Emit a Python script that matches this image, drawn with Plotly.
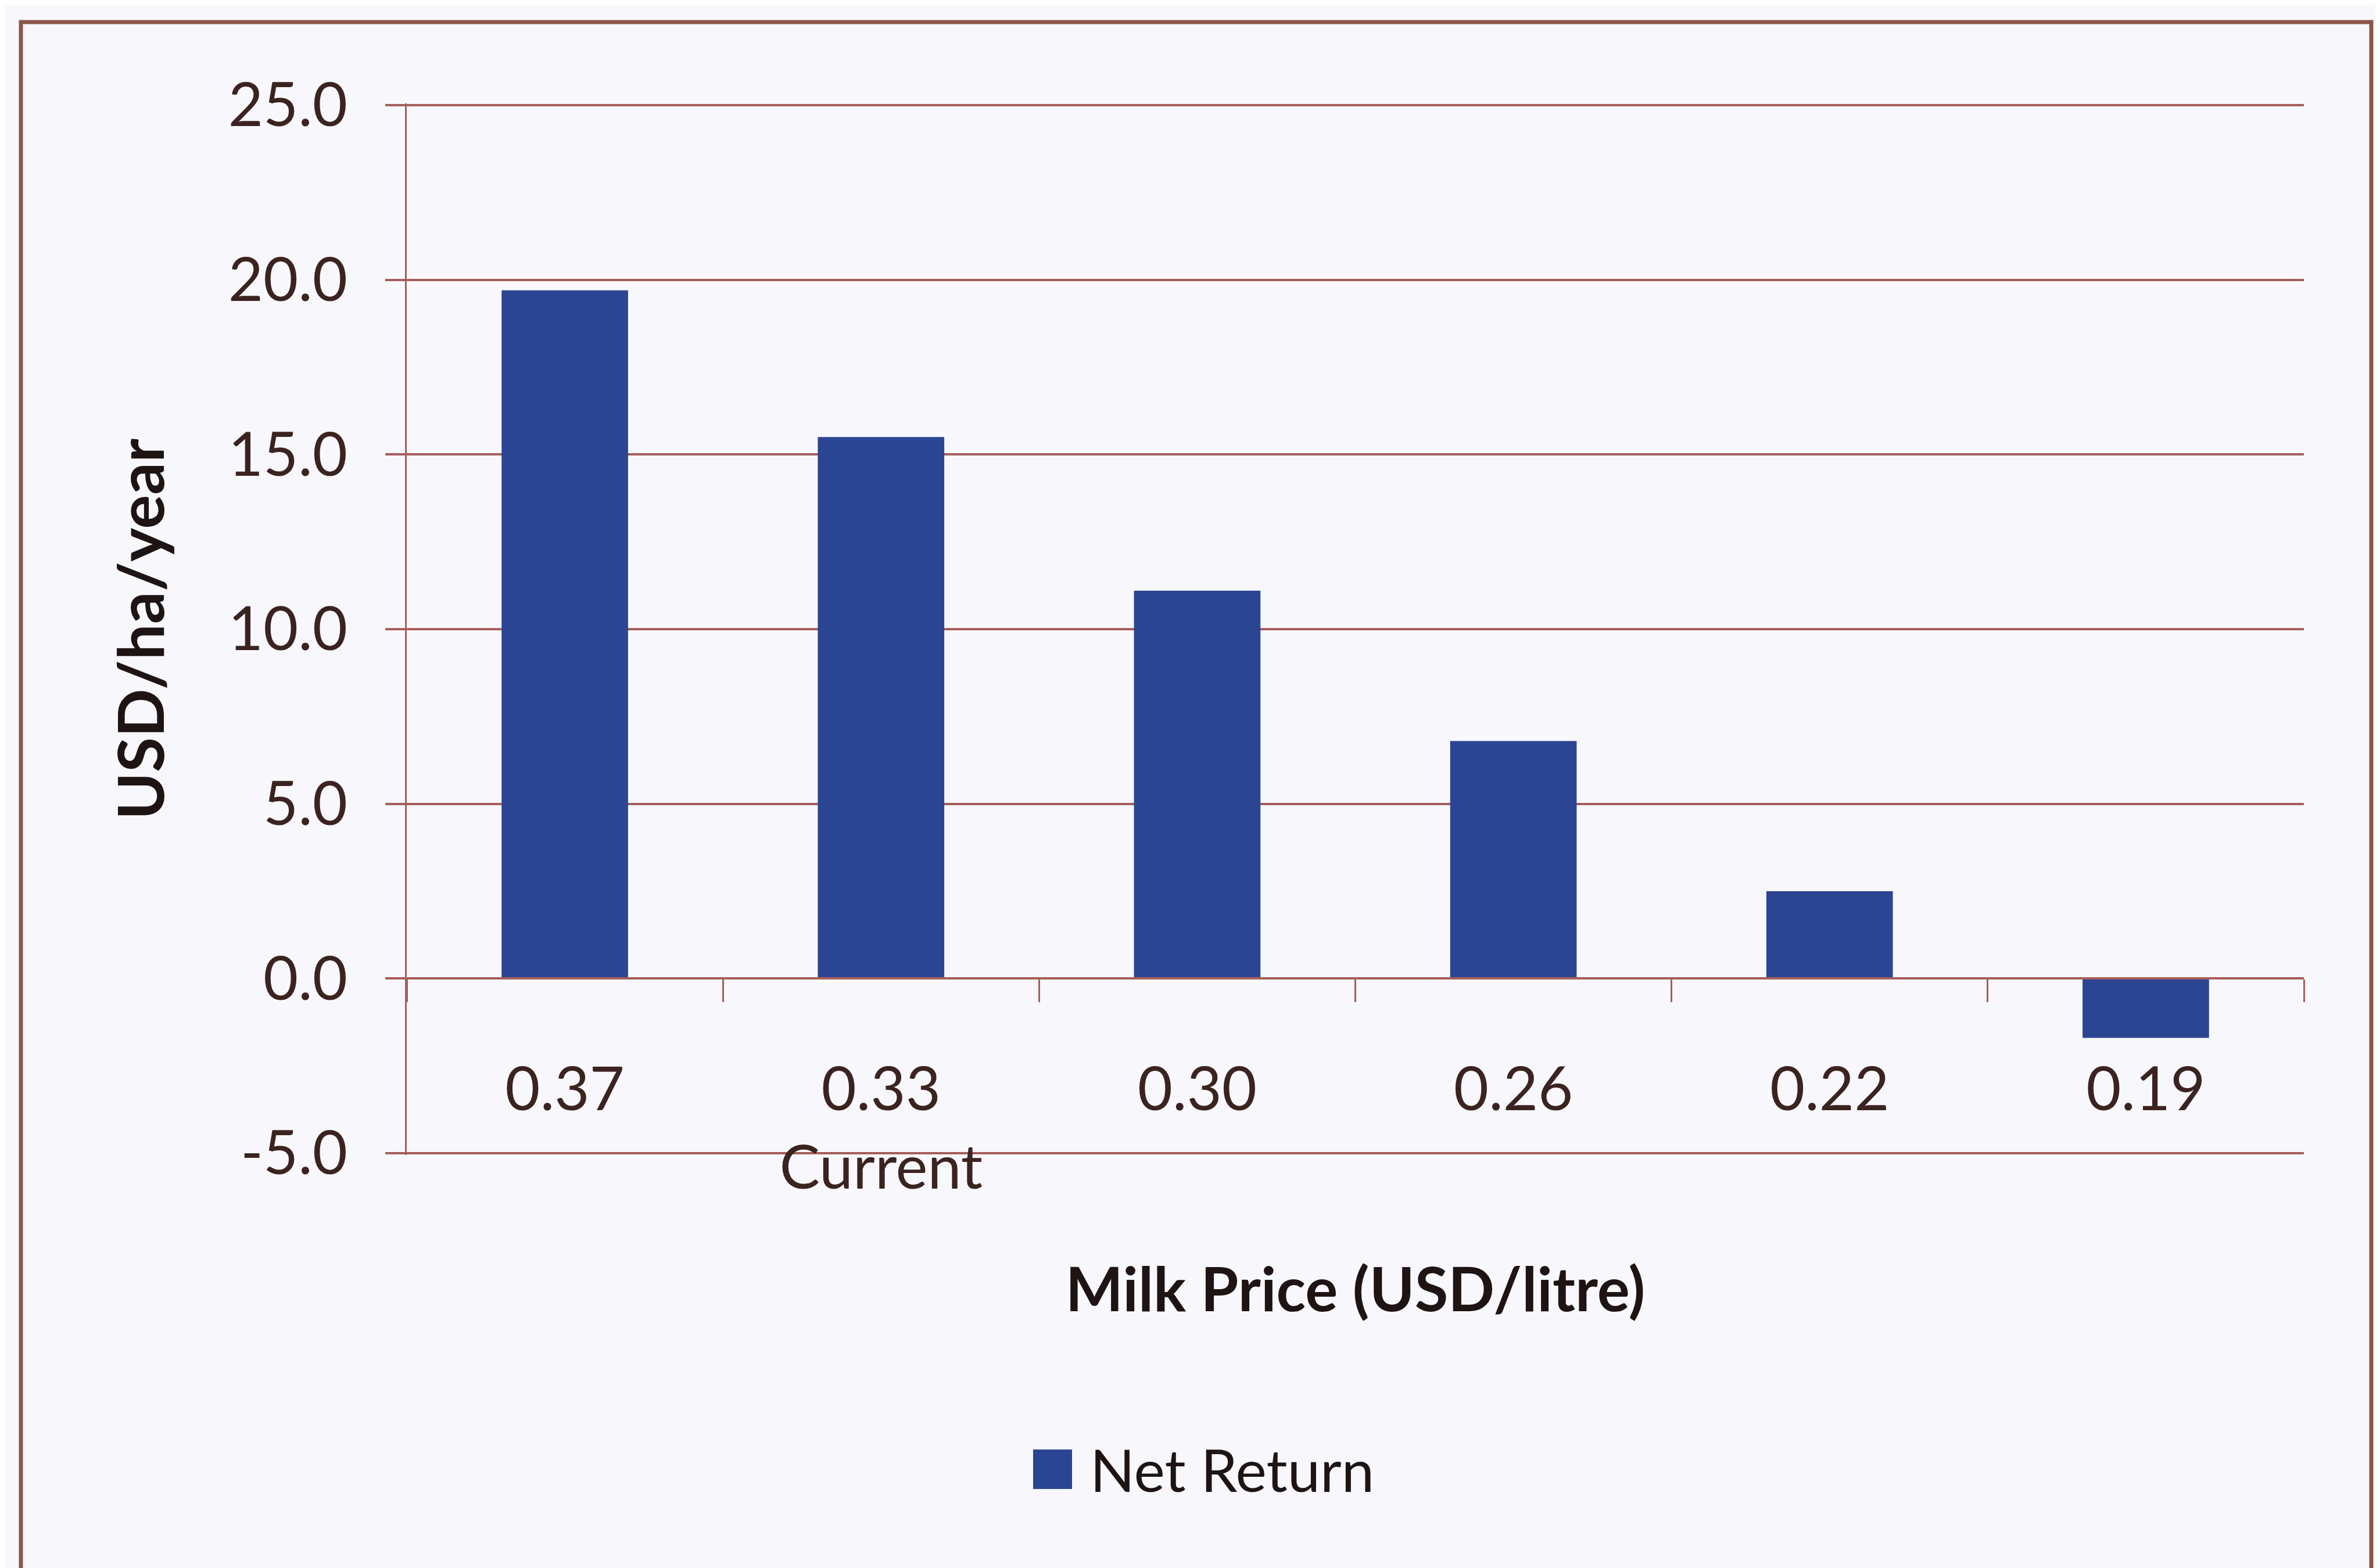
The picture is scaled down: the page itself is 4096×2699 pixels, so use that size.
import plotly.graph_objects as go

# ---- data ----
categories = ["0.37", "0.33", "0.30", "0.26", "0.22", "0.19"]
tick_labels = ["0.37", "0.33<br>Current", "0.30", "0.26", "0.22", "0.19"]
net_return = [19.7, 15.5, 11.1, 6.8, 2.5, -1.7]
y_ticks = [-5, 0, 5, 10, 15, 20, 25]
y_tick_labels = ["-5.0", "0.0", "5.0", "10.0", "15.0", "20.0", "25.0"]
series_name = "Net Return"

# ---- layout constants (output pixels) ----
W, H = 4096, 2699
L, R, T, B = 692, 139, 170, 719
PW, PH = W - L - R, H - T - B

BAR = "#2B4593"
GRID = "#A65E5A"
BORDER = "#8A5648"
TICKTXT = "#3B2320"
TITLETXT = "#1E1414"
BG = "#F8F8FC"
FONT = "Lato"


def px_x(px):
    return (px - L) / PW


def px_y(py):
    return 1 - (py - T) / PH


fig = go.Figure()
fig.add_trace(go.Bar(
    x=categories, y=net_return, name=series_name,
    marker=dict(color=BAR, line=dict(width=0)),
    showlegend=True,
))

ymin, ymax = y_ticks[0], y_ticks[-1]
pad = 0.05

fig.update_layout(
    width=W, height=H,
    margin=dict(l=L, r=R, t=T, b=B, autoexpand=False),
    paper_bgcolor=BG, plot_bgcolor=BG,
    bargap=0.6,
    font=dict(family=FONT, size=104, color=TICKTXT),
    showlegend=True,
    legend=dict(
        xref="container", yref="container",
        x=0.4292, y=0.0658, xanchor="left", yanchor="middle",
        orientation="h", itemwidth=100,
        font=dict(family=FONT, size=101, color=TITLETXT),
        bgcolor="rgba(0,0,0,0)",
    ),
    xaxis=dict(
        type="category",
        categoryorder="array", categoryarray=categories,
        tickvals=categories, ticktext=tick_labels,
        anchor="free", position=(0 - ymin + pad) / (ymax - ymin + 2 * pad),
        showline=True, linecolor=GRID, linewidth=4,
        ticks="outside", tickson="boundaries", ticklen=39,
        tickcolor=GRID, tickwidth=3,
        ticklabelstandoff=100,
        showgrid=False, zeroline=False,
        tickfont=dict(family=FONT, size=104, color=TICKTXT),
        title=dict(text="<b>Milk Price (USD/litre)</b>", standoff=115,
                   font=dict(family=FONT, size=105, color=TITLETXT)),
        automargin=False,
    ),
    yaxis=dict(
        range=[ymin - pad, ymax + pad], tickvals=y_ticks, ticktext=y_tick_labels,
        showline=True, linecolor=GRID, linewidth=3,
        ticks="outside", ticklen=34, tickcolor=GRID, tickwidth=4,
        ticklabelstandoff=44,
        showgrid=True, gridcolor=GRID, gridwidth=4,
        zeroline=False,
        tickfont=dict(family=FONT, size=104, color=TICKTXT),
        title=dict(text="<b>USD/ha/year</b>", standoff=74,
                   font=dict(family=FONT, size=110, color=TITLETXT)),
        automargin=False,
    ),
    shapes=[
        dict(type="rect", xref="paper", yref="paper",
             x0=px_x(28), x1=px_x(4073), y0=px_y(2900), y1=px_y(30),
             line=dict(color=BORDER, width=7), fillcolor="rgba(0,0,0,0)",
             layer="below"),
    ],
)

post = """
var gd = document.getElementById('{plot_id}');
function bigSym(){
  gd.querySelectorAll('g.legendpoints path').forEach(function(p){
    p.setAttribute('d','M24,34H-43V-34H24Z');
  });
}
bigSym();
setTimeout(bigSym, 0);
setTimeout(bigSym, 200);
if (gd.on) { gd.on('plotly_afterplot', bigSym); }
"""

fig.write_html("out.html", post_script=post, config={"displayModeBar": False})
